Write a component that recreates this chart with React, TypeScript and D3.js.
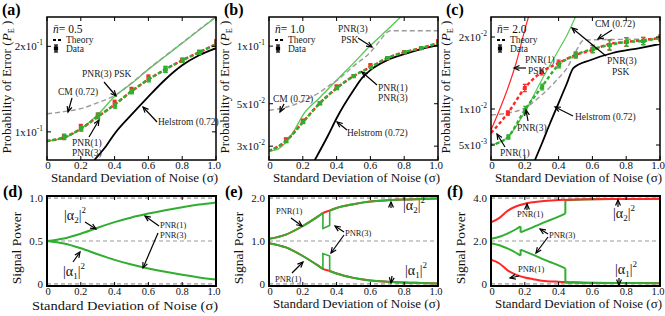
import React from 'react';
import * as d3 from 'd3';

// ---------- data ----------
const sigmaGrid = [0, 0.1, 0.2, 0.3, 0.4, 0.5, 0.6, 0.7, 0.8, 0.9, 1.0];
const sigmaData = [0.1, 0.2, 0.3, 0.4, 0.5, 0.6, 0.7, 0.8, 0.9, 1.0];
const xTicks = [0, 0.2, 0.4, 0.6, 0.8, 1.0];

// (a) n = 0.5
const aPnr3Psk = [0.0929, 0.0952, 0.1025, 0.1149, 0.1331, 0.148, 0.1659, 0.1845, 0.2052, 0.2282, 0.2537];
const aCm = [0.1158, 0.1178, 0.1207, 0.1267, 0.1342, 0.1485, 0.1665, 0.1852, 0.206, 0.229, 0.2545];
const aTheory = [0.0929, 0.0956, 0.1025, 0.113, 0.1247, 0.1389, 0.1529, 0.1659, 0.1786, 0.1906, 0.2035];
const aHelSigma = [0.28, 0.35, 0.4, 0.5, 0.6, 0.7, 0.8, 0.9, 1.0];
const aHelstrom = [0.0796, 0.0892, 0.0985, 0.1149, 0.1331, 0.1529, 0.1715, 0.186, 0.197];
const aDataG = [0.096, 0.1025, 0.1139, 0.1236, 0.1386, 0.1529, 0.1659, 0.1786, 0.1906, 0.2052];
const aDataR = [0.096, 0.1042, 0.1139, 0.1267, 0.1409, 0.1556, 0.1659, 0.1786, 0.1906, 0.2068];
const aErr = [0.002, 0.002, 0.0025, 0.0025, 0.0025, 0.003, 0.004, 0.003, 0.003, 0.004];
const aYTicks = [{ v: 0.2, m: '2x10', e: '-1' }, { v: 0.1, m: '1x10', e: '-1' }];

// (b) n = 1.0
const bPskSigma = [0, 0.05, 0.1, 0.15, 0.2, 0.3, 0.4, 0.5, 0.6, 0.7, 0.8];
const bPnr3Psk = [0.0283, 0.0289, 0.0314, 0.0363, 0.0435, 0.0538, 0.0664, 0.0815, 0.1007, 0.1217, 0.148];
const bCmSigma = [0, 0.1, 0.2, 0.3, 0.35, 0.4, 0.5, 0.6, 0.65, 0.7, 0.72, 1.0];
const bCm = [0.0462, 0.0479, 0.0515, 0.0574, 0.0617, 0.066, 0.0786, 0.093, 0.1049, 0.1184, 0.1203, 0.1203];
const bTheory = [0.0283, 0.0319, 0.04, 0.0503, 0.0603, 0.0697, 0.0776, 0.0865, 0.093, 0.0976, 0.1037];
const bHelSigma = [0.27, 0.35, 0.4, 0.5, 0.55, 0.6, 0.7, 0.8, 0.9, 1.0];
const bHelstrom = [0.0253, 0.0342, 0.042, 0.0588, 0.068, 0.0749, 0.0845, 0.0908, 0.0965, 0.1012];
const bDataG = [0.0319, 0.0402, 0.0503, 0.0603, 0.0697, 0.0776, 0.0865, 0.093, 0.0976, 0.1037];
const bDataR = [0.0325, 0.0407, 0.0503, 0.0615, 0.0697, 0.0795, 0.0865, 0.093, 0.0976, 0.106];
const bErr = [0.0006, 0.0008, 0.0008, 0.001, 0.001, 0.0012, 0.0012, 0.0012, 0.0012, 0.0015];
const bYTicks = [{ v: 0.1, m: '1x10', e: '-1' }, { v: 0.05, m: '5x10', e: '-2' }, { v: 0.03, m: '3x10', e: '-2' }];

// (c) n = 2.0
const cPnr1Sigma = [0, 0.05, 0.1, 0.15, 0.2, 0.25];
const cPnr1Psk = [0.00708, 0.00986, 0.01292, 0.0165, 0.021, 0.025];
const cPnr3Sigma = [0, 0.1, 0.2, 0.3, 0.4, 0.45, 0.5, 0.55];
const cPnr3Psk = [0.005, 0.00611, 0.00958, 0.01403, 0.01819, 0.02028, 0.02278, 0.025];
const cCmSigma = [0, 0.1, 0.2, 0.3, 0.4, 0.45, 0.5, 0.55, 1.0];
const cCm = [0.00917, 0.00944, 0.01014, 0.01194, 0.0143, 0.0157, 0.0179, 0.01958, 0.01972];
const cTheory1 = [0.00667, 0.00944, 0.01292, 0.01514, 0.01639, 0.0175, 0.01819, 0.01903, 0.01931, 0.01958, 0.01986];
const cTheory3 = [0.005, 0.00611, 0.00986, 0.01306, 0.01611, 0.0175, 0.01833, 0.01889, 0.01931, 0.01944, 0.01986];
const cHelSigma = [0.26, 0.3, 0.35, 0.4, 0.45, 0.487, 0.59, 0.72, 0.88, 1.0];
const cHelstrom = [0.00292, 0.00514, 0.00806, 0.01083, 0.01361, 0.01569, 0.01681, 0.01778, 0.01847, 0.01903];
const cDataG = [0.00611, 0.00986, 0.01306, 0.01611, 0.0175, 0.01833, 0.01889, 0.01931, 0.01944, 0.01986];
const cDataR = [0.00944, 0.01292, 0.01514, 0.01639, 0.0175, 0.01833, 0.01889, 0.01931, 0.01944, 0.01986];
const cErr = [0.0003, 0.0005, 0.0004, 0.0004, 0.0004, 0.0005, 0.0007, 0.0006, 0.0005, 0.0004];
const cYTicks = [{ v: 0.02, m: '2x10', e: '-2' }, { v: 0.01, m: '1x10', e: '-2' }, { v: 0.005, m: '5x10', e: '-3' }];

// (d) signal powers, n = 0.5
const dUpper = [0.5, 0.53, 0.585, 0.655, 0.72, 0.775, 0.82, 0.86, 0.895, 0.925, 0.95];
const dLower = [0.5, 0.47, 0.415, 0.345, 0.28, 0.225, 0.18, 0.14, 0.105, 0.075, 0.05];

// (e) n = 1.0
const eSigma = [0, 0.1, 0.2, 0.3, 0.319, 0.359, 0.4, 0.5, 0.6, 0.7, 0.8, 0.9, 1.0];
const eUpper = [1.05, 1.15, 1.35, 1.6, 1.65, 1.71, 1.77, 1.86, 1.92, 1.95, 1.97, 1.98, 1.99];
const eLower = [0.95, 0.85, 0.65, 0.4, 0.35, 0.3, 0.24, 0.14, 0.08, 0.05, 0.03, 0.02, 0.01];
const eDipSigma = [0.319, 0.359];
const eUpperDip = [1.29, 1.36];
const eLowerDip = [0.706, 0.65];

// (f) n = 2.0
const fRedSigma = [0, 0.05, 0.1, 0.15, 0.2, 0.25, 0.3, 0.4, 0.5, 0.6, 0.8, 1.0];
const fRedUpper = [2.87, 3.08, 3.42, 3.62, 3.74, 3.81, 3.86, 3.91, 3.94, 3.95, 3.96, 3.97];
const fRedLower = [1.13, 0.95, 0.62, 0.42, 0.3, 0.22, 0.15, 0.1, 0.07, 0.05, 0.04, 0.03];
const fG1Sigma = [0, 0.05, 0.1, 0.15, 0.175];
const fG1Upper = [2.1, 2.2, 2.36, 2.56, 2.68];
const fG1Lower = [1.9, 1.8, 1.64, 1.44, 1.32];
const fG2Sigma = [0.175, 0.25, 0.3, 0.35, 0.4, 0.44];
const fG2Upper = [2.4, 2.65, 2.82, 2.98, 3.14, 3.28];
const fG2Lower = [1.6, 1.35, 1.18, 1.02, 0.86, 0.72];
const fG3Sigma = [0.44, 0.5, 0.6, 0.8, 1.0];
const fG3Upper = [3.9, 3.93, 3.95, 3.96, 3.97];
const fG3Lower = [0.05, 0.05, 0.04, 0.04, 0.03];

// ---------- styling ----------
const W = 665;
const H = 316;
const FONT = '"Liberation Serif", "Times New Roman", serif';
const GREEN = '#2fae2f';
const GREEN_L = '#55cc55';
const RED = '#ff2626';
const GRAY = '#9a9a9a';

const cols: [number, number][] = [[47, 216], [269, 438], [491, 660]];
const TOP = { y0: 17, y1: 160 };
const BOT = { y0: 196, y1: 286 };

type Pt = [number, number];
const zip = (xs: number[], ys: number[]): Pt[] => xs.map((x, i) => [x, ys[i]]);

const Arrow = ({ x1, y1, x2, y2 }: { x1: number; y1: number; x2: number; y2: number }) => {
  const a = Math.atan2(y2 - y1, x2 - x1);
  const h = 6;
  const s = 0.42;
  const p1 = [x2 - h * Math.cos(a - s), y2 - h * Math.sin(a - s)];
  const p2 = [x2 - h * Math.cos(a + s), y2 - h * Math.sin(a + s)];
  return (
    <g stroke="#000" strokeWidth={1.2} fill="none">
      <line x1={x1} y1={y1} x2={x2} y2={y2} />
      <polyline points={`${p1[0]},${p1[1]} ${x2},${y2} ${p2[0]},${p2[1]}`} />
    </g>
  );
};

const Lbl = ({ x, y, children, size = 9, anchor = 'start' }: any) => (
  <text x={x} y={y} fontSize={size} fontFamily={FONT} textAnchor={anchor} fill="#222">{children}</text>
);

const Alpha = ({ x, y, i }: { x: number; y: number; i: number }) => (
  <text x={x} y={y} fontSize={14} fontFamily={FONT} fill="#111">
    |α<tspan fontSize={9} dy={3}>{i}</tspan><tspan dy={-3}>|</tspan><tspan fontSize={9} dy={-7}>2</tspan>
  </text>
);

function XAxis({ x, y0, y1, thick, labelY, titleY, labelSize = 11, titleSize = 13, titleLen = 167 }: any) {
  const [r0, r1] = x.range();
  return (
    <g fontFamily={FONT}>
      {xTicks.map((t) => (
        <g key={t}>
          <line x1={x(t)} x2={x(t)} y1={y1} y2={y1 - 4} stroke="#000" strokeWidth={1} />
          <line x1={x(t)} x2={x(t)} y1={y0} y2={y0 + 4} stroke="#000" strokeWidth={1} />
          <text x={x(t) + (t === 1 ? -2 : t === 0 ? 1 : 0)} y={labelY} fontSize={labelSize} textAnchor="middle" fill="#111">
            {t === 0 ? '0' : t.toFixed(1)}
          </text>
        </g>
      ))}
      <text x={r1 + 2} y={titleY} fontSize={titleSize} textAnchor="end" fill="#111" textLength={titleLen} lengthAdjust="spacingAndGlyphs">
        Standard Deviation of Noise (σ)
      </text>
      <rect x={r0} y={y0} width={r1 - r0} height={y1 - y0} fill="none" stroke="#000" strokeWidth={thick} />
    </g>
  );
}

function DataPoints({ x, y, vals, err, color, dx }: any) {
  return (
    <g>
      {sigmaData.map((s, i) => {
        const cx = x(s) + dx;
        const yv = vals[i];
        const top = y(yv + err[i]);
        const bot = y(yv - err[i]);
        return (
          <g key={i} stroke={color} strokeWidth={1.3}>
            <line x1={cx} x2={cx} y1={top} y2={bot} />
            <line x1={cx - 2} x2={cx + 2} y1={top} y2={top} />
            <line x1={cx - 2} x2={cx + 2} y1={bot} y2={bot} />
            <rect x={cx - 2} y={y(yv) - 2} width={4} height={4} fill={color} stroke="none" />
          </g>
        );
      })}
    </g>
  );
}

function Legend({ x0, nbar }: { x0: number; nbar: string }) {
  return (
    <g fontFamily={FONT}>
      <text x={x0 + 6} y={33} fontSize={11.5} fill="#111">
        <tspan fontStyle="italic">n̄</tspan>= {nbar}
      </text>
      <line x1={x0 + 6} x2={x0 + 16} y1={40} y2={40} stroke="#000" strokeWidth={2.2} strokeDasharray="3,2" />
      <text x={x0 + 19} y={43} fontSize={9.5} fill="#222">Theory</text>
      <g stroke="#000" strokeWidth={1.2}>
        <line x1={x0 + 9} x2={x0 + 9} y1={45} y2={52} />
        <line x1={x0 + 7} x2={x0 + 11} y1={45} y2={45} />
        <line x1={x0 + 7} x2={x0 + 11} y1={52} y2={52} />
        <rect x={x0 + 7.5} y={47} width={3} height={3} fill="#000" />
      </g>
      <text x={x0 + 19} y={52} fontSize={9.5} fill="#222">Data</text>
    </g>
  );
}

function YTitleTop({ x }: { x: number }) {
  return (
    <text transform={`translate(${x},87) rotate(-90)`} fontSize={13} fontFamily={FONT} textAnchor="middle" fill="#111"
      textLength={133} lengthAdjust="spacingAndGlyphs">
      Probability of Error (<tspan fontStyle="italic">P</tspan><tspan fontSize={8} dy={3}>E</tspan><tspan dy={-3}> )</tspan>
    </text>
  );
}

function YTicksTop({ x0, x1, y, ticks }: any) {
  return (
    <g fontFamily={FONT}>
      {ticks.map((t: any) => (
        <g key={t.v}>
          <line x1={x0} x2={x0 + 4} y1={y(t.v)} y2={y(t.v)} stroke="#000" />
          <line x1={x1} x2={x1 - 4} y1={y(t.v)} y2={y(t.v)} stroke="#000" />
          <text x={x0 - 4} y={y(t.v) + 4} fontSize={11} textAnchor="end" fill="#111">
            {t.m}<tspan fontSize={7.5} dy={-5}>{t.e}</tspan>
          </text>
        </g>
      ))}
    </g>
  );
}

function BottomFrame({ x, y, ticks, letter }: any) {
  const [x0, x1] = x.range();
  return (
    <g fontFamily={FONT}>
      {ticks.map((t: number) => (
        <g key={t}>
          <line x1={x0} x2={x1} y1={y(t)} y2={y(t)} stroke={GRAY} strokeWidth={1.2} strokeDasharray="4,3" />
          <text x={x0 - 4} y={y(t) + 4} fontSize={11} textAnchor="end" fill="#111">{t === 0 ? '0' : t.toFixed(1)}</text>
        </g>
      ))}
      <text transform={`translate(${x0 - 26},248) rotate(-90)`} fontSize={13.5} textAnchor="middle" fill="#111">Signal Power</text>
      <text x={x0 - 44} y={197} fontSize={16} fontWeight="bold" fill="#000">{letter}</text>
    </g>
  );
}

export default function App() {
  const xs = cols.map(([a, b]) => d3.scaleLinear().domain([0, 1]).range([a, b]));
  const ya = d3.scaleLog().domain([0.0796, 0.2537]).range([TOP.y1, TOP.y0]);
  const yb = d3.scaleLog().domain([0.0254, 0.142]).range([TOP.y1, TOP.y0]);
  const yc = d3.scaleLinear().domain([0.002917, 0.02278]).range([TOP.y1, TOP.y0]);
  const yd = d3.scaleLinear().domain([-0.025, 1.025]).range([BOT.y1, BOT.y0]);
  const ye = d3.scaleLinear().domain([-0.05, 2.05]).range([BOT.y1, BOT.y0]);
  const yf = d3.scaleLinear().domain([-0.1, 4.1]).range([BOT.y1, BOT.y0]);

  const mk = (x: any, y: any, curve: any = d3.curveMonotoneX) => (sx: number[], sy: number[]) =>
    d3.line<Pt>().x((d) => x(d[0])).y((d) => y(d[1])).curve(curve)(zip(sx, sy)) || '';

  const la = mk(xs[0], ya);
  const lb = mk(xs[1], yb);
  const lc = mk(xs[2], yc);
  const ld = mk(xs[0], yd);
  const le = mk(xs[1], ye);
  const lf = mk(xs[2], yf);
  const lfLin = mk(xs[2], yf, d3.curveLinear);
  const leLin = mk(xs[1], ye, d3.curveLinear);

  const eBefore = eSigma.map((s, i) => i).filter((i) => eSigma[i] <= eDipSigma[0]);
  const eAfter = eSigma.map((s, i) => i).filter((i) => eSigma[i] >= eDipSigma[1]);
  const pick = (arr: number[], idx: number[]) => idx.map((i) => arr[i]);
  const eLastB = eBefore[eBefore.length - 1];
  const eFirstA = eAfter[0];

  const theoryDash = '3.5,2.5';
  const TOPX = { labelY: 169, titleY: 182 };
  const BOTX = { labelY: 295, titleY: 308, labelSize: 10.5 };

  return (
    <svg width={W} height={H} style={{ position: 'absolute', left: 0, top: 0, background: '#fff' }}>
      <defs>
        {cols.map(([a, b], i) => (
          <clipPath id={`clipT${i}`} key={`t${i}`}>
            <rect x={a} y={TOP.y0} width={b - a} height={TOP.y1 - TOP.y0} />
          </clipPath>
        ))}
        {cols.map(([a, b], i) => (
          <clipPath id={`clipB${i}`} key={`b${i}`}>
            <rect x={a} y={BOT.y0} width={b - a} height={BOT.y1 - BOT.y0} />
          </clipPath>
        ))}
      </defs>

      {/* ---------- (a) ---------- */}
      <g clipPath="url(#clipT0)" fill="none">
        <path d={la(sigmaGrid, aPnr3Psk)} stroke={GREEN_L} strokeWidth={1.4} />
        <path d={la(sigmaGrid, aCm)} stroke={GRAY} strokeWidth={1.4} strokeDasharray="5,3" />
        <path d={la(aHelSigma, aHelstrom)} stroke="#000" strokeWidth={1.8} />
        <path d={la(sigmaGrid, aTheory)} stroke={RED} strokeWidth={2.4} strokeDasharray={theoryDash} />
        <path d={la(sigmaGrid, aTheory)} stroke={GREEN} strokeWidth={2.4} strokeDasharray={theoryDash} strokeDashoffset={1} />
        <DataPoints x={xs[0]} y={ya} vals={aDataR} err={aErr} color={RED} dx={0} />
        <DataPoints x={xs[0]} y={ya} vals={aDataG} err={aErr} color={GREEN} dx={0.5} />
      </g>
      <XAxis x={xs[0]} y0={TOP.y0} y1={TOP.y1} thick={1.5} {...TOPX} />
      <YTicksTop x0={47} x1={216} y={ya} ticks={aYTicks} />
      <YTitleTop x={11} />
      <text x={2} y={15} fontSize={16} fontWeight="bold" fontFamily={FONT}>(a)</text>
      <Legend x0={47} nbar="0.5" />
      <Lbl x={82} y={77} size={9.5}>PNR(3) PSK</Lbl>
      <Arrow x1={104} y1={82} x2={116} y2={96} />
      <Lbl x={58} y={95} size={9.5}>CM (0.72)</Lbl>
      <Arrow x1={72} y1={98} x2={68} y2={112} />
      <Lbl x={72} y={146} size={9.5}>PNR(1)</Lbl>
      <Lbl x={72} y={156} size={9.5}>PNR(3)</Lbl>
      <Arrow x1={89} y1={137} x2={99} y2={120} />
      <Lbl x={158} y={125} size={9.5}>Helstrom (0.72)</Lbl>
      <Arrow x1={157} y1={122} x2={143} y2={107} />

      {/* ---------- (b) ---------- */}
      <g clipPath="url(#clipT1)" fill="none">
        <path d={lb(bPskSigma, bPnr3Psk)} stroke={GREEN_L} strokeWidth={1.4} />
        <path d={lb(bCmSigma, bCm)} stroke={GRAY} strokeWidth={1.4} strokeDasharray="5,3" />
        <path d={lb(bHelSigma, bHelstrom)} stroke="#000" strokeWidth={1.8} />
        <path d={lb(sigmaGrid, bTheory)} stroke={RED} strokeWidth={2.4} strokeDasharray={theoryDash} />
        <path d={lb(sigmaGrid, bTheory)} stroke={GREEN} strokeWidth={2.4} strokeDasharray={theoryDash} strokeDashoffset={1} />
        <DataPoints x={xs[1]} y={yb} vals={bDataR} err={bErr} color={RED} dx={0} />
        <DataPoints x={xs[1]} y={yb} vals={bDataG} err={bErr} color={GREEN} dx={0.5} />
      </g>
      <XAxis x={xs[1]} y0={TOP.y0} y1={TOP.y1} thick={1.5} {...TOPX} />
      <YTicksTop x0={269} x1={438} y={yb} ticks={bYTicks} />
      <YTitleTop x={229} />
      <text x={224} y={15} fontSize={16} fontWeight="bold" fontFamily={FONT}>(b)</text>
      <Legend x0={269} nbar="1.0" />
      <Lbl x={338} y={32} size={9.5}>PNR(3)</Lbl>
      <Lbl x={341} y={43} size={9.5}>PSK</Lbl>
      <Arrow x1={358} y1={38} x2={372} y2={47} />
      <Lbl x={273} y={102} size={9.5}>CM (0.72)</Lbl>
      <Arrow x1={284} y1={104} x2={280} y2={112} />
      <Lbl x={378} y={91} size={9.5}>PNR(1)</Lbl>
      <Lbl x={378} y={101} size={9.5}>PNR(3)</Lbl>
      <Arrow x1={377} y1={85} x2={362} y2={72} />
      <Lbl x={347} y={136} size={9.5}>Helstrom (0.72)</Lbl>
      <Arrow x1={347} y1={130} x2={337} y2={122} />

      {/* ---------- (c) ---------- */}
      <g clipPath="url(#clipT2)" fill="none">
        <path d={lc(cPnr1Sigma, cPnr1Psk)} stroke={RED} strokeWidth={1.2} />
        <path d={lc(cPnr3Sigma, cPnr3Psk)} stroke={GREEN_L} strokeWidth={1.2} />
        <path d={lc(cCmSigma, cCm)} stroke={GRAY} strokeWidth={1.4} strokeDasharray="5,3" />
        <path d={lc(cHelSigma, cHelstrom)} stroke="#000" strokeWidth={1.8} />
        <path d={lc(sigmaGrid, cTheory1)} stroke={RED} strokeWidth={2.4} strokeDasharray={theoryDash} />
        <path d={lc(sigmaGrid, cTheory3)} stroke={GREEN} strokeWidth={2.4} strokeDasharray={theoryDash} strokeDashoffset={1} />
        <DataPoints x={xs[2]} y={yc} vals={cDataR} err={cErr} color={RED} dx={0} />
        <DataPoints x={xs[2]} y={yc} vals={cDataG} err={cErr} color={GREEN} dx={0.5} />
      </g>
      <XAxis x={xs[2]} y0={TOP.y0} y1={TOP.y1} thick={1.5} {...TOPX} />
      <YTicksTop x0={491} x1={660} y={yc} ticks={cYTicks} />
      <YTitleTop x={450} />
      <text x={446} y={15} fontSize={16} fontWeight="bold" fontFamily={FONT}>(c)</text>
      <Legend x0={491} nbar="2.0" />
      <Lbl x={525} y={63} size={9.5}>PNR(1)</Lbl>
      <Lbl x={528} y={74} size={9.5}>PSK</Lbl>
      <Arrow x1={526} y1={68} x2={514} y2={68} />
      <Lbl x={595} y={27} size={9.5}>CM (0.72)</Lbl>
      <Arrow x1={612} y1={30} x2={598} y2={39} />
      <Lbl x={607} y={64} size={9.5}>PNR(3)</Lbl>
      <Lbl x={612} y={75} size={9.5}>PSK</Lbl>
      <Arrow x1={606} y1={56} x2={572} y2={28} />
      <Lbl x={517} y={131} size={9.5}>PNR(3)</Lbl>
      <Arrow x1={528} y1={121} x2={526} y2={110} />
      <Lbl x={500} y={156} size={9.5}>PNR(1)</Lbl>
      <Arrow x1={505} y1={147} x2={497} y2={134} />
      <Lbl x={575} y={120} size={9.5}>Helstrom (0.72)</Lbl>
      <Arrow x1={573} y1={116} x2={555} y2={107} />

      {/* ---------- (d) ---------- */}
      <BottomFrame x={xs[0]} y={yd} ticks={[0, 0.5, 1.0]} letter="(d)" />
      <g clipPath="url(#clipB0)" fill="none" stroke={GREEN} strokeWidth={2}>
        <path d={ld(sigmaGrid, dUpper)} />
        <path d={ld(sigmaGrid, dLower)} />
      </g>
      <XAxis x={xs[0]} y0={BOT.y0} y1={BOT.y1} thick={2} {...BOTX} titleY={309.5} titleSize={13.5} titleLen={186} />
      <Alpha x={64} y={220} i={2} />
      <Arrow x1={85} y1={222} x2={96} y2={229} />
      <Alpha x={63} y={276} i={1} />
      <Arrow x1={73} y1={262} x2={80} y2={252} />
      <Lbl x={160} y={228} size={8.5}>PNR(1)</Lbl>
      <Lbl x={160} y={238} size={8.5}>PNR(3)</Lbl>
      <Arrow x1={159} y1={226} x2={145} y2={216} />
      <Arrow x1={158} y1={233} x2={143} y2={268} />

      {/* ---------- (e) ---------- */}
      <BottomFrame x={xs[1]} y={ye} ticks={[0, 1.0, 2.0]} letter="(e)" />
      <g clipPath="url(#clipB1)" fill="none" strokeWidth={2}>
        <path d={le(eSigma, eUpper)} stroke={RED} />
        <path d={le(eSigma, eLower)} stroke={RED} />
        <path d={le(pick(eSigma, eBefore), pick(eUpper, eBefore))} stroke={GREEN} />
        <path d={le(pick(eSigma, eAfter), pick(eUpper, eAfter))} stroke={GREEN} />
        <path d={le(pick(eSigma, eBefore), pick(eLower, eBefore))} stroke={GREEN} />
        <path d={le(pick(eSigma, eAfter), pick(eLower, eAfter))} stroke={GREEN} />
        <path d={leLin([eDipSigma[0], ...eDipSigma, eDipSigma[1]], [eUpper[eLastB], ...eUpperDip, eUpper[eFirstA]])} stroke={GREEN} strokeWidth={1.6} />
        <path d={leLin([eDipSigma[0], ...eDipSigma, eDipSigma[1]], [eLower[eLastB], ...eLowerDip, eLower[eFirstA]])} stroke={GREEN} strokeWidth={1.6} />
      </g>
      <XAxis x={xs[1]} y0={BOT.y0} y1={BOT.y1} thick={2} {...BOTX} />
      <Lbl x={276} y={214} size={8.5}>PNR(1)</Lbl>
      <Arrow x1={291} y1={218} x2={302} y2={226} />
      <Lbl x={275} y={282} size={8.5}>PNR(1)</Lbl>
      <Arrow x1={292} y1={273} x2={303} y2={262} />
      <Lbl x={345} y={236} size={8.5}>PNR(3)</Lbl>
      <Arrow x1={344} y1={232} x2={335} y2={226} />
      <Arrow x1={344} y1={235} x2={331} y2={253} />
      <Alpha x={403} y={210} i={2} />
      <Arrow x1={391} y1={208} x2={391} y2={202} />
      <Alpha x={405} y={275} i={1} />
      <Arrow x1={392} y1={276} x2={391} y2={283} />

      {/* ---------- (f) ---------- */}
      <BottomFrame x={xs[2]} y={yf} ticks={[0, 2.0, 4.0]} letter="(f)" />
      <g clipPath="url(#clipB2)" fill="none" strokeWidth={2}>
        <path d={lf(fRedSigma, fRedLower)} stroke={RED} />
        <path d={lf(fG1Sigma, fG1Upper)} stroke={GREEN} />
        <path d={lf(fG1Sigma, fG1Lower)} stroke={GREEN} />
        <path d={lfLin([fG1Sigma[fG1Sigma.length - 1], fG2Sigma[0]], [fG1Upper[fG1Upper.length - 1], fG2Upper[0]])} stroke={GREEN} />
        <path d={lfLin([fG1Sigma[fG1Sigma.length - 1], fG2Sigma[0]], [fG1Lower[fG1Lower.length - 1], fG2Lower[0]])} stroke={GREEN} />
        <path d={lf(fG2Sigma, fG2Upper)} stroke={GREEN} />
        <path d={lf(fG2Sigma, fG2Lower)} stroke={GREEN} />
        <path d={lfLin([fG2Sigma[fG2Sigma.length - 1], fG3Sigma[0]], [fG2Upper[fG2Upper.length - 1], fG3Upper[0]])} stroke={GREEN} />
        <path d={lfLin([fG2Sigma[fG2Sigma.length - 1], fG3Sigma[0]], [fG2Lower[fG2Lower.length - 1], fG3Lower[0]])} stroke={GREEN} />
        <path d={lf(fG3Sigma, fG3Upper)} stroke={GREEN} />
        <path d={lf(fG3Sigma, fG3Lower)} stroke={GREEN} />
        <path d={lf(fRedSigma, fRedUpper)} stroke={RED} />
      </g>
      <XAxis x={xs[2]} y0={BOT.y0} y1={BOT.y1} thick={2} {...BOTX} />
      <Lbl x={517} y={217} size={8.5}>PNR(1)</Lbl>
      <Arrow x1={527} y1={210} x2={527} y2={204} />
      <Lbl x={549} y={238} size={8.5}>PNR(3)</Lbl>
      <Arrow x1={548} y1={234} x2={540} y2={229} />
      <Arrow x1={548} y1={237} x2={536} y2={253} />
      <Lbl x={518} y={272} size={8.5}>PNR(1)</Lbl>
      <Arrow x1={519} y1={276} x2={510} y2={278} />
      <Alpha x={613} y={218} i={2} />
      <Arrow x1={618} y1={207} x2={618} y2={200} />
      <Alpha x={615} y={274} i={1} />
      <Arrow x1={619} y1={278} x2={619} y2={285} />
    </svg>
  );
}
